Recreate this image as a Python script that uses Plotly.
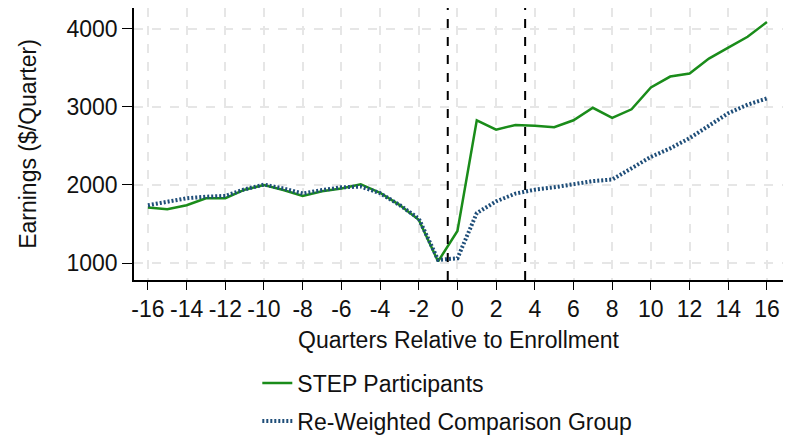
import plotly.graph_objects as go

quarters = list(range(-16, 17))
step_participants = [1710, 1690, 1740, 1830, 1830, 1940, 2000, 1935, 1860, 1920, 1955, 2010, 1900, 1745, 1555, 1020,
                     1410, 2830, 2710, 2770, 2760, 2740, 2830, 2990, 2860, 2970, 3250, 3390, 3430, 3620, 3760, 3900, 4090]
comparison = [1740, 1790, 1830, 1850, 1860, 1945, 2005, 1955, 1890, 1935, 1970, 1980, 1895, 1745, 1570, 1040,
              1060, 1640, 1790, 1890, 1940, 1970, 2010, 2050, 2070, 2210, 2360, 2470, 2600, 2760, 2920, 3030, 3110]
x_ticks = list(range(-16, 17, 2))
x_tick_labels = [str(v) for v in x_ticks]
y_ticks = [1000, 2000, 3000, 4000]
y_tick_labels = [str(v) for v in y_ticks]
ref_lines = [-0.5, 3.5]

fig = go.Figure()
fig.add_trace(go.Scatter(x=quarters, y=step_participants, mode="lines", name="STEP Participants",
                         line=dict(color="#1a8c1a", width=2.5), legendgroup="a"))
fig.add_trace(go.Scatter(x=quarters, y=comparison, mode="lines", name="Re-Weighted Comparison Group",
                         line=dict(color="#1f4e79", width=4, dash="2px,2px"), legendgroup="b"))

for xv in ref_lines:
    fig.add_shape(type="line", xref="x", yref="paper", x0=xv, x1=xv, y0=0, y1=1,
                  line=dict(color="black", width=2, dash="dash"))

font_fam = "Liberation Sans, Arial, sans-serif"
FS = 23
# page body has an 8px margin, so the figure is sized to fit inside the window
fig.update_layout(
    width=785, height=432,
    margin=dict(l=126, r=10, t=0, b=160, autoexpand=False),
    paper_bgcolor="white", plot_bgcolor="white",
    font=dict(family=font_fam, size=FS, color="#111111"),
    showlegend=True,
    legend=dict(x=0.19, y=-0.30, xanchor="left", yanchor="top", orientation="v",
                traceorder="grouped", tracegroupgap=5, font=dict(size=FS),
                bgcolor="rgba(0,0,0,0)"),
    xaxis=dict(range=[-16.72, 16.83], tickvals=x_ticks, ticktext=x_tick_labels, ticks="outside", ticklen=8,
               tickcolor="black", showline=True, linecolor="black", linewidth=1.5,
               showgrid=True, gridcolor="#e6e6e6", griddash="dash", gridwidth=1.5,
               zeroline=False, tickfont=dict(size=FS), tickangle=0, automargin=False,
               title=dict(text="Quarters Relative to Enrollment", font=dict(size=FS), standoff=11)),
    yaxis=dict(range=[782, 4269], tickvals=y_ticks, ticktext=y_tick_labels, ticks="outside", ticklen=10,
               tickcolor="black", showline=True, linecolor="black", linewidth=1.5,
               showgrid=True, gridcolor="#e6e6e6", griddash="dash", gridwidth=1.5,
               zeroline=False, tickfont=dict(size=FS), automargin=False,
               title=dict(text="Earnings ($/Quarter)", font=dict(size=FS), standoff=23)),
)

fig.write_html("out.html")
